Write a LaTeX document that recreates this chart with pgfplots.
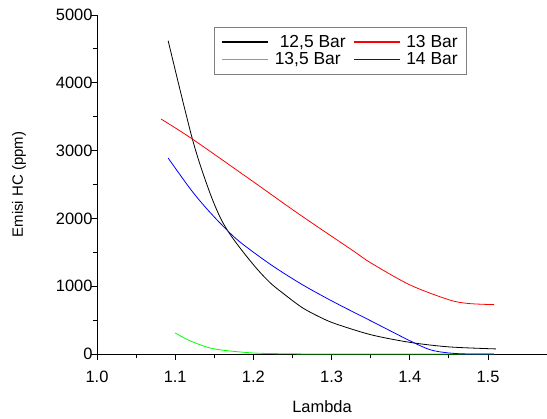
\documentclass[border=0pt]{standalone}
\usepackage{fontspec}
\setmainfont{Liberation Sans}
\usepackage{pgfplots}
\pgfplotsset{compat=1.18}

\definecolor{ored}{RGB}{255,0,0}
\definecolor{ogreen}{RGB}{0,255,0}
\definecolor{oblue}{RGB}{0,0,255}
\definecolor{lgreen}{RGB}{110,245,110}
\definecolor{lblue}{RGB}{110,110,255}

\begin{document}
\begin{tikzpicture}
\path[use as bounding box] (0,0) rectangle (547bp,419bp);
\begin{axis}[
  at={(97bp,65bp)}, anchor=south west,
  scale only axis, width=450bp, height=339bp,
  xmin=1.0, xmax=1.5755, ymin=0, ymax=5000,
  axis x line=bottom, axis y line=left, axis line style={-, line width=0.8bp},
  xtick={1.0,1.1,1.2,1.3,1.4,1.5}, minor x tick num=1,
  ytick={0,1000,2000,3000,4000,5000}, minor y tick num=1,
  tick align=outside, major tick length=6bp, minor tick length=4bp,
  tick style={line width=0.8bp, black},
  /pgf/number format/assume math mode=true,
  x tick label style={/pgf/number format/fixed, /pgf/number format/fixed zerofill,
    /pgf/number format/precision=1, yshift=-8bp},
  y tick label style={/pgf/number format/fixed, /pgf/number format/1000 sep={}, xshift=5bp},
  tick label style={font=\fontsize{16.5}{19}\selectfont},
  xlabel={Lambda}, ylabel={Emisi HC (ppm)},
  xlabel style={font=\fontsize{16.5}{19}\selectfont, yshift=-11bp},
  ylabel style={font=\fontsize{15}{18}\selectfont, yshift=23bp},
  legend columns=2,
  legend cell align=left,
  legend style={at={(0.26,0.965)}, anchor=north west, draw=gray,
    font=\fontsize{17.5}{19}\selectfont, inner xsep=7bp, inner ysep=6bp,
    /tikz/every even column/.append style={column sep=6bp}},
  legend image code/.code={\draw[#1, line width=1.6bp] (0bp,0bp) -- (46bp,0bp);},
  every axis plot/.append style={line width=0.8bp, smooth, tension=0.5},
]
\addplot[color=black] coordinates {
  (1.091,4620) (1.122,3170) (1.143,2420) (1.159,1980) (1.176,1670) (1.202,1290)
  (1.222,1045) (1.243,850) (1.263,680) (1.284,550) (1.304,450) (1.35,285)
  (1.40,172) (1.45,105) (1.51,75)
};
\addlegendentry{\hspace{9bp}12,5 Bar}
\addplot[color=ored] coordinates {
  (1.082,3465) (1.122,3170) (1.20,2540) (1.25,2130) (1.288,1830) (1.329,1511)
  (1.35,1345) (1.40,1020) (1.45,800) (1.475,745) (1.508,728)
};
\addlegendentry{\hspace{3bp}13 Bar}
\addplot[color=ogreen] coordinates {
  (1.10,310) (1.12,190) (1.15,75) (1.20,15) (1.25,3) (1.30,0) (1.508,0)
};
\addlegendentry{\hspace{4bp}13,5 Bar}
\addplot[color=oblue] coordinates {
  (1.091,2890) (1.119,2440) (1.139,2160) (1.160,1900) (1.182,1660) (1.222,1320)
  (1.263,1020) (1.304,760) (1.35,490) (1.40,196) (1.426,63)
  (1.45,15) (1.475,0) (1.508,0)
};
\addlegendentry{\hspace{3bp}14 Bar}
\end{axis}
\end{tikzpicture}
\end{document}
